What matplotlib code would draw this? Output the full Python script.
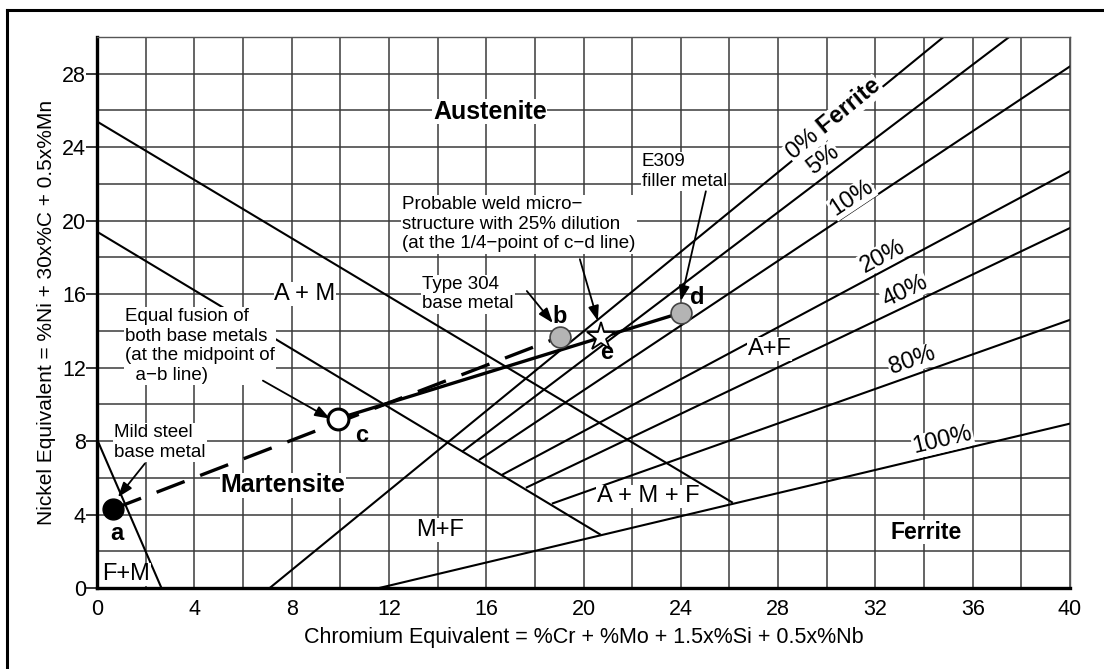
import matplotlib
matplotlib.use('Agg')
import numpy as np
import matplotlib.pyplot as plt
from matplotlib.lines import Line2D


# Schaeffler diagram - dissimilar weld (mild steel + type 304 with E309 filler)

# phase boundary lines: (x pair, y pair)
line_aust_am = ([0, 26.1], [25.4, 4.67])
line_am_m = ([0, 20.67], [19.4, 2.93])
line_fm = ([0, 2.65], [8.1, 0])
ferrite_lines = {
    '0%': ([7.1, 34.8], [0, 30]),
    '5%': ([15.04, 37.5], [7.45, 30]),
    '10%': ([15.74, 40], [7.0, 28.4]),
    '20%': ([16.69, 40], [6.19, 22.7]),
    '40%': ([17.67, 40], [5.48, 19.6]),
    '80%': ([18.74, 40], [4.61, 14.6]),
    '100%': ([11.6, 40], [0, 8.95]),
}

# label positions for the ferrite lines
pct_labels = ['5%', '10%', '20%', '40%', '80%', '100%']
pct_x = [29.84, 31.03, 32.3, 33.21, 33.5, 34.77]
pct_y = [23.33, 21.22, 18.07, 16.17, 12.37, 8.03]

# weld points
pt_a = (0.66, 4.3)
pt_b = (19.03, 13.67)
pt_c = (9.9, 9.22)
pt_d = (24.0, 14.98)
pt_e = (20.7, 13.65)

# region labels
region_text = ['A + M', 'M+F', 'A + M + F', 'A+F', 'F+M']
region_x = [8.55, 14.1, 22.65, 27.66, 1.2]
region_y = [16.0, 3.15, 4.99, 13.02, 0.75]
bold_text = ['Austenite', 'Martensite', 'Ferrite']
bold_x = [16.15, 7.64, 34.1]
bold_y = [25.94, 5.59, 3.04]

# point letters
letters = ['a', 'b', 'c', 'd', 'e']
letter_x = [0.82, 19.03, 10.9, 24.66, 20.96]
letter_y = [2.98, 14.76, 8.3, 15.79, 12.8]

# annotations: text, text pos (left, center y), arrow start, arrow end
notes = [
    ('Mild steel\nbase metal', (0.7, 7.92), (1.97, 6.78), (0.86, 4.94)),
    ('Equal fusion of\nboth base metals\n(at the midpoint of\n  a\u2212b line)',
     (1.15, 13.18), (6.82, 11.29), (9.58, 9.22)),
    ('Type 304\nbase metal', (13.36, 16.0), (17.67, 16.17), (18.74, 14.43)),
    ('Probable weld micro\u2212\nstructure with 25% dilution\n(at the 1/4\u2212point of c\u2212d line)',
     (12.54, 19.8), (19.85, 17.9), (20.59, 14.54)),
    ('E309\nfiller metal', (22.4, 22.68), (25.03, 21.6), (24.0, 15.63)),
]


def main():
    plt.rcParams['font.family'] = ['Liberation Sans', 'DejaVu Sans']
    plt.rcParams['mathtext.fontset'] = 'custom'
    plt.rcParams['mathtext.rm'] = 'Liberation Sans'
    plt.rcParams['mathtext.bf'] = 'Liberation Sans:bold'

    fig = plt.figure(figsize=(11.04, 6.69), dpi=100)
    ax = fig.add_axes([97 / 1104, 1 - 588 / 669, (1070 - 97) / 1104, (588 - 37) / 669])
    ax.set_xlim(0, 40)
    ax.set_ylim(0, 30)

    # grid
    ax.set_xticks(np.arange(0, 41, 4))
    ax.set_yticks(np.arange(0, 29, 4))
    ax.set_xticks(np.arange(0, 41, 2), minor=True)
    ax.set_yticks(np.arange(0, 31, 2), minor=True)
    ax.grid(True, which='both', color='#3a3a3a', lw=1.1, zorder=0)
    ax.tick_params(axis='x', which='both', length=0, labelsize=15.5, pad=8)
    ax.tick_params(axis='y', which='major', length=8, width=1.1, labelsize=15.5, pad=0)
    ax.tick_params(axis='y', which='minor', length=0)
    for s in ['left', 'bottom']:
        ax.spines[s].set_linewidth(2.4)
    for s in ['top', 'right']:
        ax.spines[s].set_linewidth(1.0)
        ax.spines[s].set_color('#555555')

    ax.set_xlabel('Chromium Equivalent = %Cr + %Mo + 1.5x%Si + 0.5x%Nb', fontsize=15.5, labelpad=5)
    ax.set_ylabel('Nickel Equivalent = %Ni + 30x%C + 0.5x%Mn', fontsize=15, labelpad=4)

    # phase boundaries
    for xs, ys in [line_aust_am, line_am_m, line_fm]:
        ax.plot(xs, ys, color='black', lw=1.5, zorder=2)
    for key in ferrite_lines:
        xs, ys = ferrite_lines[key]
        ax.plot(xs, ys, color='black', lw=1.5, zorder=2)

    fig.canvas.draw()

    def angle_of(key):
        xs, ys = ferrite_lines[key]
        p = ax.transData.transform(np.column_stack([xs, ys]))
        return np.degrees(np.arctan2(p[1, 1] - p[0, 1], p[1, 0] - p[0, 0]))

    box = dict(facecolor='white', edgecolor='none', pad=0.5)
    for lab, x, y in zip(pct_labels, pct_x, pct_y):
        ax.text(x, y, lab, rotation=angle_of(lab), fontsize=17, ha='center', va='center',
                rotation_mode='anchor', bbox=box, zorder=3)
    ax.text(30.3, 25.5, r'0% $\mathbf{Ferrite}$', rotation=angle_of('0%'), fontsize=17,
            ha='center', va='center', rotation_mode='anchor', bbox=box, zorder=3)

    for t, x, y in zip(region_text, region_x, region_y):
        ax.text(x, y, t, fontsize=17, ha='center', va='center', bbox=box, zorder=3)
    for t, x, y in zip(bold_text, bold_x, bold_y):
        ax.text(x, y, t, fontsize=18 if t != 'Ferrite' else 16.5, fontweight='bold',
                ha='center', va='center', bbox=box, zorder=3)

    # weld path lines
    ax.plot([pt_a[0], pt_b[0]], [pt_a[1], pt_b[1]], color='black', lw=2.4,
            dashes=(9, 5), zorder=4)
    ax.plot([pt_c[0], pt_d[0]], [pt_c[1], pt_d[1]], color='black', lw=2.4, zorder=4)

    ax.plot(*pt_a, 'o', ms=15, mfc='black', mec='black', zorder=6)
    ax.plot(*pt_b, 'o', ms=15, mfc='#b4b4b4', mec='#444444', mew=1.2, zorder=6)
    ax.plot(*pt_d, 'o', ms=15, mfc='#b4b4b4', mec='#444444', mew=1.2, zorder=6)
    ax.plot(*pt_c, 'o', ms=15, mfc='white', mec='black', mew=2.2, zorder=6)
    ax.plot(*pt_e, '*', ms=21, mfc='white', mec='black', mew=1.3, zorder=6)

    for t, x, y in zip(letters, letter_x, letter_y):
        ax.text(x, y, t, fontsize=17, fontweight='bold', ha='center', va='center', zorder=7)

    for txt, tpos, start, end in notes:
        ax.text(tpos[0], tpos[1], txt, fontsize=13.5, ha='left', va='center',
                linespacing=1.2, bbox=dict(facecolor='white', edgecolor='none', pad=1),
                zorder=5)
        ax.annotate('', xy=end, xytext=start,
                    arrowprops=dict(arrowstyle='-|>,head_length=0.9,head_width=0.32',
                                    color='black', lw=1.3, shrinkA=0, shrinkB=0),
                    zorder=7)

    # outer frame (top and left only)
    fig.add_artist(Line2D([7 / 1104, 7 / 1104], [0, 1 - 10 / 669], color='black', lw=2.2,
                          transform=fig.transFigure))
    fig.add_artist(Line2D([7 / 1104, 1], [1 - 10 / 669, 1 - 10 / 669], color='black', lw=2.2,
                          transform=fig.transFigure))

    fig.savefig('out.png', dpi=100)
    return


if __name__ == "__main__":
    main()
